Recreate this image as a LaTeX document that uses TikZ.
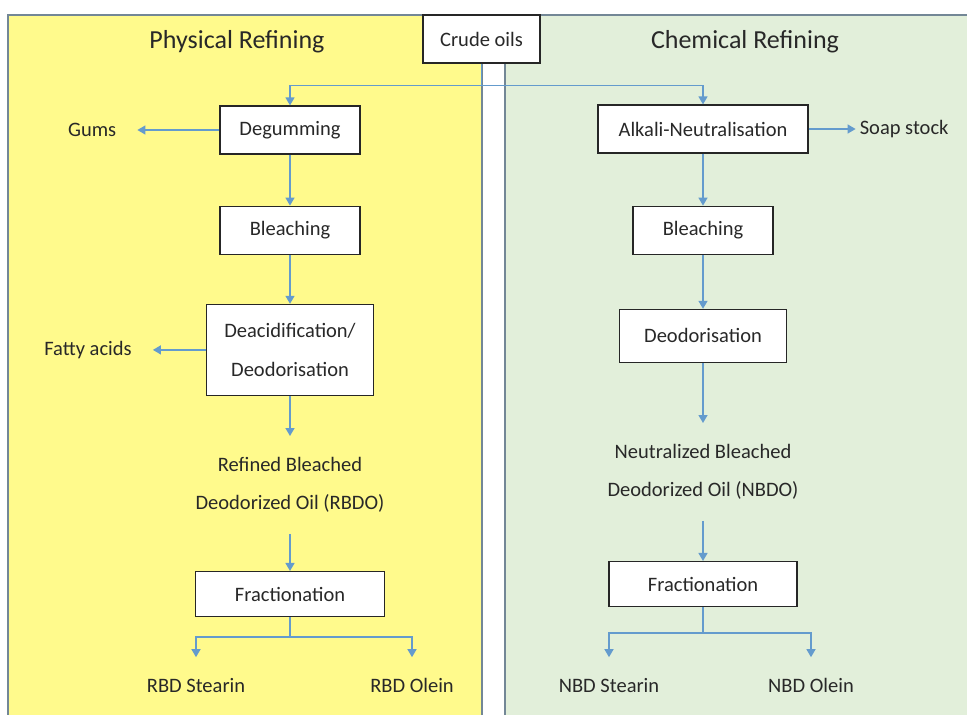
\documentclass[tikz,border=0pt]{standalone}
\usepackage{fontspec}
\setmainfont{Carlito}
\usetikzlibrary{positioning, calc, arrows.meta}
\definecolor{physyellow}{RGB}{255,250,140}
\definecolor{chemgreen}{RGB}{226,239,218}
\definecolor{flowblue}{RGB}{100,155,205}
\definecolor{panelgray}{RGB}{115,135,150}
\definecolor{inkgray}{RGB}{40,40,40}
\tikzset{>={Triangle[width=9pt,length=8pt]}}
\tikzset{
  stepbox/.style = {draw = black!85, fill = white, line width = 1.2pt, minimum height = \stepheight, align = center, text = inkgray},
  product/.style = {inner sep = 21pt, align = center, text = inkgray},
  flow/.style = {->, draw = flowblue, line width = 1.4pt},
  panel/.style = {draw = panelgray, line width = 1.2pt}
}
\def \stepwidth {140pt}
\def \stepheight {48pt}

\begin{document}
\begin{tikzpicture}[x = 1pt, y = 1pt]
\fontsize{20.5}{38.5}\selectfont
\useasboundingbox (0,0) rectangle (967,-715);

% panels
\draw[panel, fill = physyellow] (8,-15) rectangle (482,-730);
\draw[panel, fill = chemgreen] (505,-15) rectangle (980,-730);

\node (phys_title) [text = inkgray, font = \fontsize{26}{30}\selectfont] at (237,-42) {Physical Refining};
\node (chem_title) [text = inkgray, font = \fontsize{26}{30}\selectfont] at (745,-42) {Chemical Refining};

\node (crude) [stepbox, minimum width = 117pt] at (481.5,-39) {Crude oils};

% physical refining
\node (degum) [stepbox, minimum width = \stepwidth] at (290,-130) {Degumming};
\node (gums) [product, left = 82pt of degum] {Gums};
\node (bleach_p) [stepbox, minimum width = \stepwidth, below = 51pt of degum] {Bleaching};
\node (deacid) [stepbox, minimum width = 167pt, minimum height = 91pt, below = 49pt of bleach_p] {Deacidification/\\Deodorisation};
\node (fatty) [product, left = 53pt of deacid] {Fatty acids};
\node (rbdo) [product, below = 40pt of deacid] {Refined Bleached\\Deodorized Oil (RBDO)};
\node (fract_p) [stepbox, minimum width = 189pt, minimum height = 45pt, below = 37pt of rbdo] {Fractionation};
\coordinate (split_p) at ($(fract_p.south) + (0,-20)$);
\node (stearin_p) [product, below = 40pt of fract_p.south, xshift = -94pt] {RBD Stearin};
\node (olein_p) [product, below = 40pt of fract_p.south, xshift = 122pt] {RBD Olein};

% chemical refining
\node (alkali) [stepbox, minimum width = 210pt] at (703,-129) {Alkali-Neutralisation};
\node (soap) [product, inner xsep = 4pt, right = 47pt of alkali] {Soap stock};
\node (bleach_c) [stepbox, minimum width = \stepwidth, below = 52pt of alkali] {Bleaching};
\node (deodor_c) [stepbox, minimum width = 167pt, minimum height = 53pt, below = 54pt of bleach_c] {Deodorisation};
\node (nbdo) [product, below = 60pt of deodor_c] {Neutralized Bleached\\Deodorized Oil (NBDO)};
\node (fract_c) [stepbox, minimum width = 188pt, minimum height = 45pt, below = 40pt of nbdo] {Fractionation};
\coordinate (split_c) at ($(fract_c.south) + (0,-26)$);
\node (stearin_c) [product, below = 50pt of fract_c.south, xshift = -94pt] {NBD Stearin};
\node (olein_c) [product, below = 50pt of fract_c.south, xshift = 108pt] {NBD Olein};

% crude oil fork
\coordinate (fork) at ($(crude.south) + (0,-22)$);
\draw[flow, -] (crude) -- (fork);
\draw[flow] (fork) -| (degum);
\draw[flow] (fork) -| (alkali);

\draw[flow] (degum) -- (gums);
\draw[flow] (degum) -- (bleach_p);
\draw[flow] (bleach_p) -- (deacid);
\draw[flow] (deacid) -- (fatty);
\draw[flow] (deacid) -- (rbdo);
\draw[flow] (rbdo) -- (fract_p);
\draw[flow, -] (fract_p) -- (split_p);
\draw[flow] (split_p) -| (stearin_p);
\draw[flow] (split_p) -| (olein_p);

\draw[flow] (alkali) -- (soap);
\draw[flow] (alkali) -- (bleach_c);
\draw[flow] (bleach_c) -- (deodor_c);
\draw[flow] (deodor_c) -- (nbdo);
\draw[flow] (nbdo) -- (fract_c);
\draw[flow, -] (fract_c) -- (split_c);
\draw[flow] (split_c) -| (stearin_c);
\draw[flow] (split_c) -| (olein_c);

\end{tikzpicture}
\end{document}
